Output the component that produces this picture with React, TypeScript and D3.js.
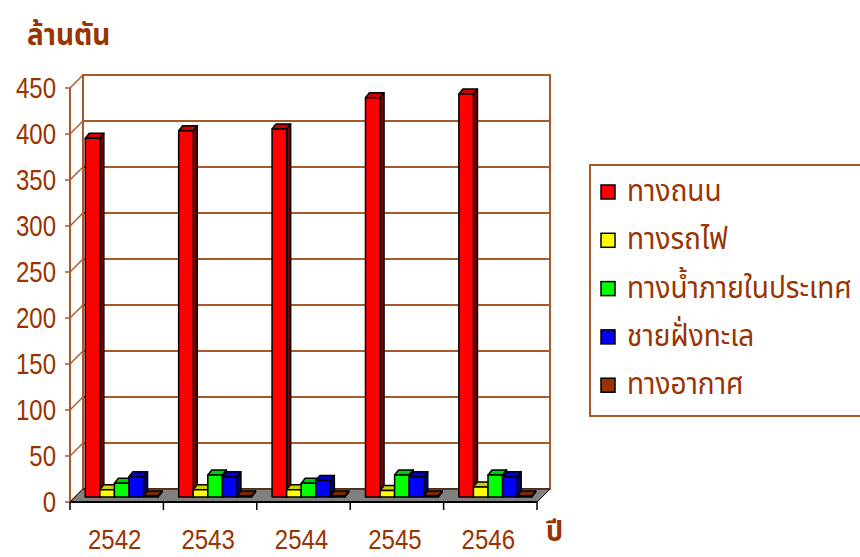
import React from 'react';
import * as d3 from 'd3';

const categories = ['2542', '2543', '2544', '2545', '2546'];
const seriesNames = ['ทางถนน', 'ทางรถไฟ', 'ทางน้ำภายในประเทศ', 'ชายฝั่งทะเล', 'ทางอากาศ'];
const road = [390, 398, 400, 434, 438];
const rail = [8, 8, 8, 7, 11];
const inland = [15, 24, 15, 24, 24];
const coastal = [22, 22, 18, 22, 22];
const air = [1, 1, 1, 1, 1];
const seriesColors = ['#ff0000', '#ffff00', '#00ff00', '#0000ff', '#993300'];
const yTicks = [0, 50, 100, 150, 200, 250, 300, 350, 400, 450];
const yTitle = 'ล้านตัน';
const xTitle = 'ปี';

const seriesValues = [road, rail, inland, coastal, air];

const TXT = '#993300';
const GRID = '#a9582a';
const FONT = '"Liberation Sans", Arial, sans-serif';
const THAI = '"Noto Sans Thai", "Noto Sans Thai Looped", Tahoma, "Noto Sans", sans-serif';

function SText(props: { x: number; y: number; sy: number; children: React.ReactNode; [k: string]: any }) {
  const { x, y, sy, children, ...rest } = props;
  return (
    <text transform={`translate(${x},${y}) scale(1,${sy})`} {...rest}>{children}</text>
  );
}

export default function App() {
  const W = 860, H = 557;
  const x0 = 70, x1 = 537;
  const DX = 13, DY = -13; // wall depth
  const y = d3.scaleLinear().domain([0, 450]).range([502, 88]);
  const xc = d3.scaleBand<string>().domain(categories).range([x0, x1]).paddingInner(0.22).paddingOuter(0.11);
  const xs = d3.scaleBand<number>().domain(seriesNames.map((_, i) => i)).range([0, xc.bandwidth()]);
  const bx = 5, by = -5; // bar front offset
  const ddx = 4, ddy = -5; // bar depth
  const yMax = y(450);
  const y0 = y(0);
  const pts = (p: number[][]) => p.map((q) => q.join(',')).join(' ');

  return (
    <svg width={W} height={H} style={{ position: 'absolute', left: 0, top: 0, background: '#fff' }}>
      {/* title */}
      <SText x={27} y={45} sy={1.1} fill={TXT} fontFamily={THAI} fontWeight="bold" fontSize={28}>{yTitle}</SText>
      {/* back wall */}
      <rect x={x0 + DX} y={yMax + DY} width={x1 - x0} height={y0 - yMax} fill="#fff" stroke={GRID} strokeWidth={2} />
      {yTicks.map((t) => (
        <g key={t}>
          <line x1={x0 + DX} x2={x1 + DX} y1={y(t) + DY} y2={y(t) + DY} stroke={GRID} strokeWidth={2} />
          <line x1={x0} x2={x0 + DX} y1={y(t)} y2={y(t) + DY} stroke={GRID} strokeWidth={1.5} />
          <line x1={x0 - 5} x2={x0} y1={y(t)} y2={y(t)} stroke={GRID} strokeWidth={1.5} />
          <SText x={56} y={y(t) + 10} sy={1.2} textAnchor="end" fill={TXT} fontFamily={FONT} fontSize={24}>{t}</SText>
        </g>
      ))}
      <line x1={x0} x2={x0} y1={yMax} y2={y0} stroke={GRID} strokeWidth={2} />
      {/* floor */}
      <polygon points={pts([[x0, y0], [x1, y0], [x1 + DX, y0 + DY], [x0 + DX, y0 + DY]])} fill="#808080" stroke="#000" strokeWidth={1} />
      <line x1={x0} x2={x1} y1={y0} y2={y0} stroke="#000" strokeWidth={2} />
      {d3.range(categories.length + 1).map((i) => {
        const xx = x0 + i * xc.step();
        return <line key={i} x1={xx} x2={xx} y1={y0} y2={y0 + 8} stroke="#000" strokeWidth={1.5} />;
      })}
      {/* bars */}
      {categories.map((c, ci) => (
        <g key={c}>
          {seriesValues.map((vals, si) => {
            const v = vals[ci];
            const col = seriesColors[si];
            const bxl = (xc(c) as number) + (xs(si) as number) + bx;
            const w = xs.bandwidth();
            const yt = y(v) + by;
            const yb = y0 + by;
            const top = d3.color(col)!.darker(0.6).formatHex();
            const side = d3.color(col)!.darker(2).formatHex();
            return (
              <g key={si} stroke="#000" strokeWidth={1.5} strokeLinejoin="round">
                <polygon points={pts([[bxl + w, yt], [bxl + w + ddx, yt + ddy], [bxl + w + ddx, yb + ddy], [bxl + w, yb]])} fill={side} />
                <polygon points={pts([[bxl, yt], [bxl + w, yt], [bxl + w + ddx, yt + ddy], [bxl + ddx, yt + ddy]])} fill={top} />
                <rect x={bxl} y={yt} width={w} height={yb - yt} fill={col} />
              </g>
            );
          })}
        </g>
      ))}
      {/* x labels */}
      {categories.map((c) => (
        <SText key={c} x={(xc(c) as number) + xc.bandwidth() / 2 - 2} y={549} sy={1.15} textAnchor="middle" fill={TXT} fontFamily={FONT} fontSize={24}>{c}</SText>
      ))}
      <SText x={546} y={541} sy={1.05} fill={TXT} fontFamily={THAI} fontWeight="bold" fontSize={27}>{xTitle}</SText>
      {/* legend */}
      <rect x={590} y={165} width={290} height={251} fill="#fff" stroke={GRID} strokeWidth={2} />
      {seriesNames.map((n, i) => {
        const cy = 192 + i * 48.3;
        return (
          <g key={n}>
            <rect x={601} y={cy - 7} width={14} height={14} fill={seriesColors[i]} stroke="#000" strokeWidth={1.5} />
            <SText x={627} y={cy + 9} sy={1.1} fill={TXT} fontFamily={THAI} fontSize={28}>{n}</SText>
          </g>
        );
      })}
    </svg>
  );
}
